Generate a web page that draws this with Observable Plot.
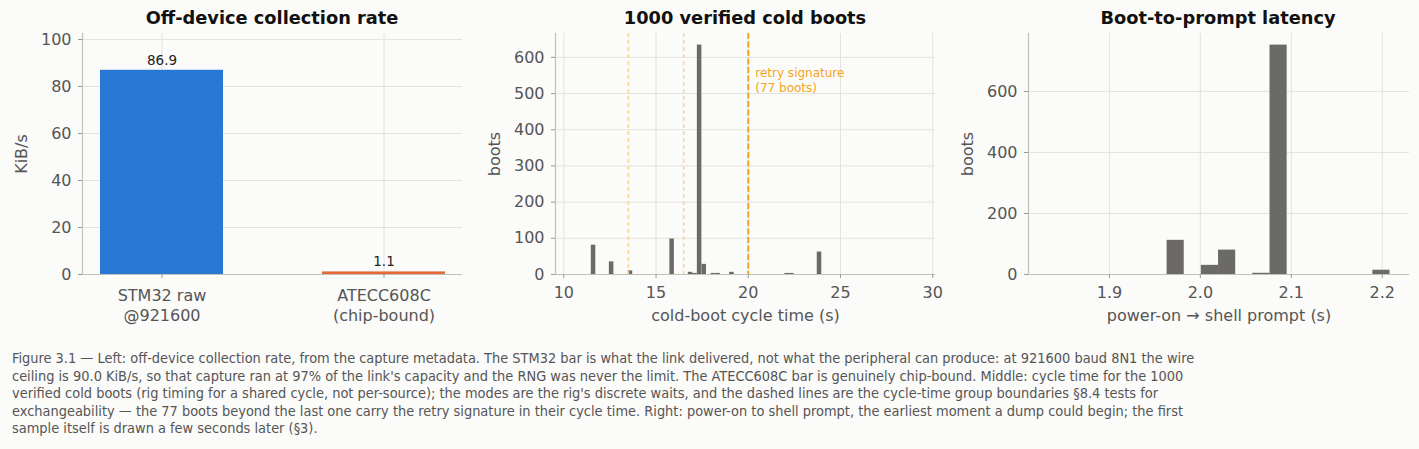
<!DOCTYPE html>
<html><head><meta charset="utf-8">
<script src="https://cdn.jsdelivr.net/npm/d3@7"></script>
<script src="https://cdn.jsdelivr.net/npm/@observablehq/plot@0.6"></script>
<style>
body{margin:0;background:#fbfbf9;font-family:"DejaVu Sans",sans-serif;}
#wrap{position:relative;width:1419px;height:449px;overflow:hidden;background:#fbfbf9}
.panel{position:absolute;top:0;width:473px;height:340px}
.title{position:absolute;top:9px;left:82px;width:380px;text-align:center;font-weight:bold;font-size:17.8px;line-height:18px;color:#111;white-space:nowrap}
.chart{position:absolute;top:24px;left:0}
#caption{position:absolute;left:12px;top:350px;font-size:14.43px;line-height:17.5px;color:#555;font-stretch:condensed;white-space:nowrap}
</style></head><body>
<div id="wrap">
  <div class="panel" style="left:0"><div class="title">Off-device collection rate</div><div class="chart" id="c1"></div></div>
  <div class="panel" style="left:473px"><div class="title">1000 verified cold boots</div><div class="chart" id="c2"></div></div>
  <div class="panel" style="left:946px"><div class="title">Boot-to-prompt latency</div><div class="chart" id="c3"></div></div>
  <div id="caption"></div>
</div>
<script>
// ---- data ----
const rateCategories = ["STM32 raw\n@921600", "ATECC608C\n(chip-bound)"];
const rateValues = [86.9, 1.1];
const rateColors = ["#2a78d6", "#e8683a"];
const rateTicks = [0, 20, 40, 60, 80, 100];

const cycleBinStart = [11.49, 12.47, 13.49, 15.75, 16.75, 16.99, 17.24, 17.49, 17.99, 18.24, 18.99, 21.99, 22.24, 23.74];
const cycleCounts   = [81, 35, 10, 98, 6, 3, 634, 28, 3, 3, 6, 3, 3, 62];
const cycleBinWidth = 0.245;
const cycleGroupBounds = [13.5, 16.5];
const retryBound = [20];
const cycleTicks = [10, 15, 20, 25, 30];
const bootsTicks = [0, 100, 200, 300, 400, 500, 600];

const latencyBinStart = [1.9634, 2.0011, 2.0200, 2.0577, 2.0766, 2.1897];
const latencyCounts   = [112, 30, 80, 4, 752, 14];
const latencyBinWidth = 0.01885;
const latencyTicks = [1.9, 2.0, 2.1, 2.2];
const latencyYTicks = [0, 200, 400, 600];

const captionLines = [
  "Figure 3.1 \u2014 Left: off-device collection rate, from the capture metadata. The STM32 bar is what the link delivered, not what the peripheral can produce: at 921600 baud 8N1 the wire",
  "ceiling is 90.0 KiB/s, so that capture ran at 97% of the link's capacity and the RNG was never the limit. The ATECC608C bar is genuinely chip-bound. Middle: cycle time for the 1000",
  "verified cold boots (rig timing for a shared cycle, not per-source); the modes are the rig's discrete waits, and the dashed lines are the cycle-time group boundaries \u00a78.4 tests for",
  "exchangeability \u2014 the 77 boots beyond the last one carry the retry signature in their cycle time. Right: power-on to shell prompt, the earliest moment a dump could begin; the first",
  "sample itself is drawn a few seconds later (\u00a73)."
];

// ---- shared styling ----
const W = 473, H = 311;
const GRID = "#e4e2dd", SPINE = "#c2c0ba", TXT = "#555", BARGRAY = "#6b6a67";
const base = {
  width: W, height: H, marginTop: 9, marginBottom: 61, marginLeft: 82, marginRight: 11,
  style: {background: "transparent", fontFamily: "DejaVu Sans, sans-serif", fontSize: "16px", color: TXT, overflow: "visible"}
};
const yAx = (ticks, label, fmt) => Plot.axisY({ticks, tickFormat: fmt, tickSize: 4, tickPadding: 7, stroke: "#999", fill: TXT, fontSize: 16,
  label, labelAnchor: "center", labelArrow: "none", labelOffset: 67});
const xAx = (opts) => Plot.axisX({tickSize: 4, tickPadding: 8, stroke: "#999", fill: TXT, fontSize: 16, labelAnchor: "center", labelArrow: "none", labelOffset: 46, ...opts});

// ---- panel 1 ----
const rateData = rateCategories.map((c, i) => ({c, v: rateValues[i], col: rateColors[i]}));
document.getElementById("c1").append(Plot.plot({
  ...base,
  x: {type: "band", domain: rateCategories, paddingInner: 0.448, paddingOuter: 0.0766},
  y: {domain: [0, 102.55]},
  marks: [
    Plot.gridY(rateTicks, {stroke: GRID, strokeOpacity: 1}),
    Plot.gridX(rateCategories, {stroke: GRID, strokeOpacity: 1}),
    Plot.barY(rateData, {x: "c", y: "v", fill: "col"}),
    Plot.text(rateData, {x: "c", y: "v", text: d => d.v.toFixed(1), dy: -10, fill: "#222", fontSize: 13.5}),
    Plot.ruleY([0], {stroke: SPINE, strokeWidth: 1.2}),
    Plot.frame({anchor: "left", stroke: SPINE, strokeWidth: 1.2}),
    yAx(rateTicks, "KiB/s"),
    xAx({label: null, lineHeight: 1.25})
  ]
}));

// ---- panel 2 ----
const cycleData = cycleBinStart.map((s, i) => ({x1: s, x2: s + cycleBinWidth, n: cycleCounts[i]}));
document.getElementById("c2").append(Plot.plot({
  ...base,
  x: {domain: [9.55, 30.15]},
  y: {domain: [0, 666]},
  marks: [
    Plot.gridY(bootsTicks, {stroke: GRID, strokeOpacity: 1}),
    Plot.gridX(cycleTicks, {stroke: GRID, strokeOpacity: 1}),
    Plot.rectY(cycleData, {x1: "x1", x2: "x2", y: "n", fill: BARGRAY}),
    Plot.ruleX(cycleGroupBounds, {stroke: "#f9d596", strokeWidth: 1.5, strokeDasharray: "4,3"}),
    Plot.ruleX(retryBound, {stroke: "#f5a41c", strokeWidth: 2, strokeDasharray: "6,2.5"}),
    Plot.text(retryBound, {x: d => d, text: () => "retry signature\n(77 boots)", frameAnchor: "top", textAnchor: "start", lineAnchor: "top", dx: 7, dy: 33, lineHeight: 1.25, fill: "#f5a41c", fontSize: 12}),
    Plot.ruleY([0], {stroke: SPINE, strokeWidth: 1.2}),
    Plot.frame({anchor: "left", stroke: SPINE, strokeWidth: 1.2}),
    yAx(bootsTicks, "boots"),
    xAx({ticks: cycleTicks, label: "cold-boot cycle time (s)"})
  ]
}));

// ---- panel 3 ----
const latData = latencyBinStart.map((s, i) => ({x1: s, x2: s + latencyBinWidth, n: latencyCounts[i]}));
document.getElementById("c3").append(Plot.plot({
  ...base, marginRight: 10,
  x: {domain: [1.811, 2.23]},
  y: {domain: [0, 790]},
  marks: [
    Plot.gridY(latencyYTicks, {stroke: GRID, strokeOpacity: 1}),
    Plot.gridX(latencyTicks, {stroke: GRID, strokeOpacity: 1}),
    Plot.rectY(latData, {x1: "x1", x2: "x2", y: "n", fill: BARGRAY}),
    Plot.ruleY([0], {stroke: SPINE, strokeWidth: 1.2}),
    Plot.frame({anchor: "left", stroke: SPINE, strokeWidth: 1.2}),
    yAx(latencyYTicks, "boots"),
    xAx({ticks: latencyTicks, tickFormat: d3.format(".1f"), label: "power-on \u2192 shell prompt (s)"})
  ]
}));

const cap = document.getElementById("caption");
captionLines.forEach(t => { const d = document.createElement("div"); d.textContent = t; cap.append(d); });
</script>
</body></html>
